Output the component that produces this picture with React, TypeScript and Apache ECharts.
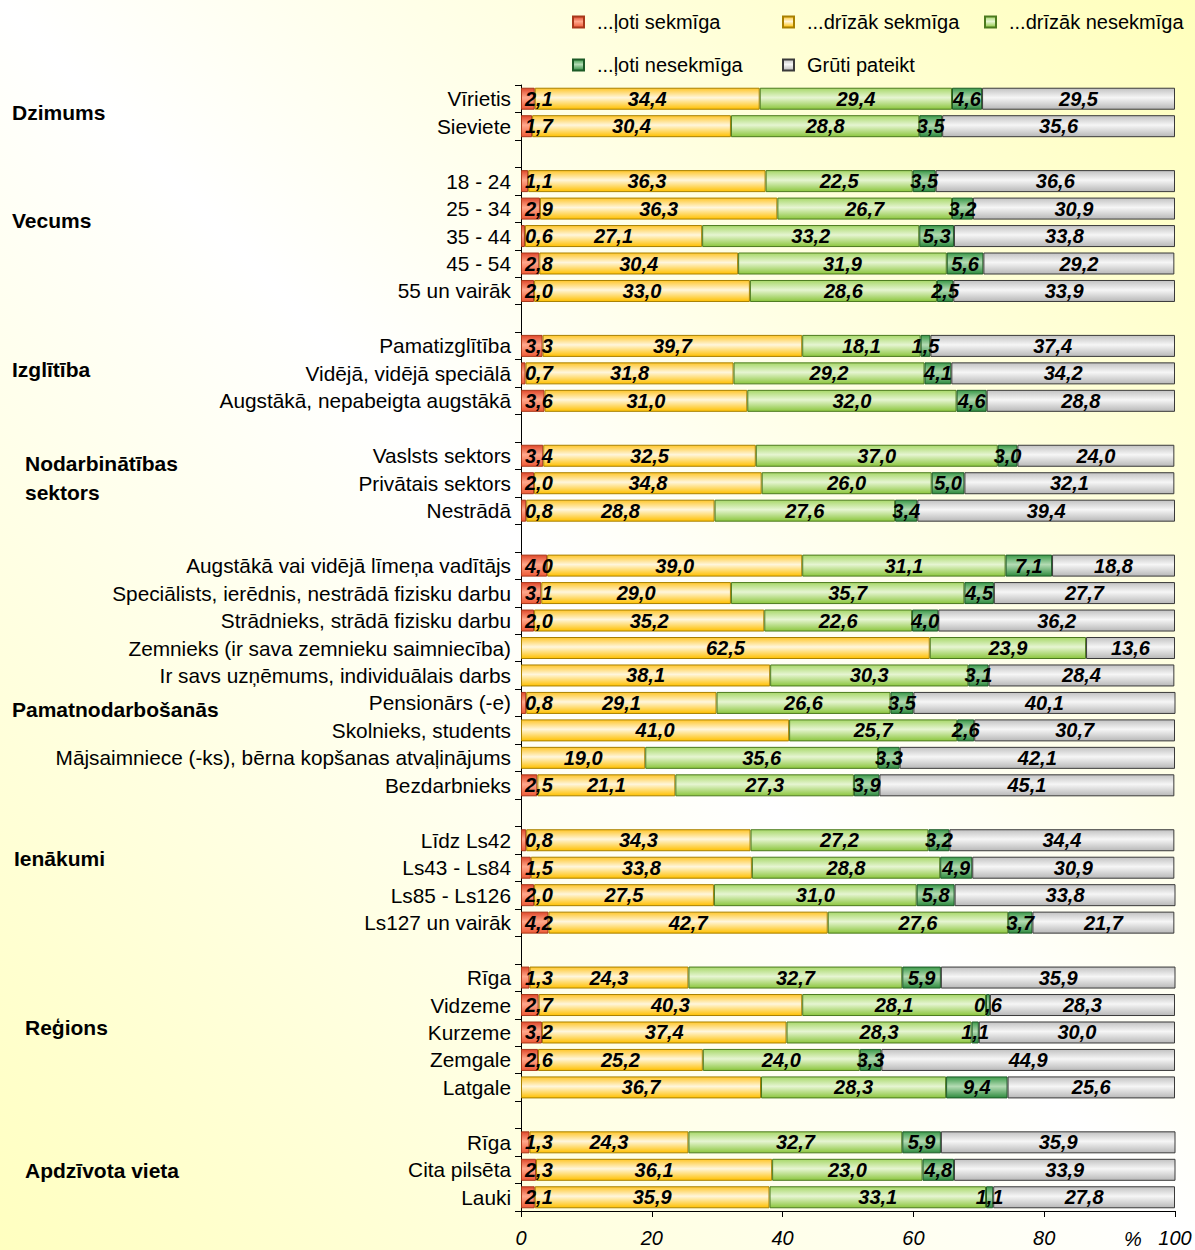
import React, { useEffect, useRef } from "react";
import * as echarts from "echarts";

// ---------- DATA ----------
const categories = [
  "Vīrietis",
  "Sieviete",
  "",
  "18 - 24",
  "25 - 34",
  "35 - 44",
  "45 - 54",
  "55 un vairāk",
  "",
  "Pamatizglītība",
  "Vidējā, vidējā speciālā",
  "Augstākā, nepabeigta augstākā",
  "",
  "Vaslsts sektors",
  "Privātais sektors",
  "Nestrādā",
  "",
  "Augstākā vai vidējā līmeņa vadītājs",
  "Speciālists, ierēdnis, nestrādā fizisku darbu",
  "Strādnieks, strādā fizisku darbu",
  "Zemnieks (ir sava zemnieku saimniecība)",
  "Ir savs uzņēmums, individuālais darbs",
  "Pensionārs (-e)",
  "Skolnieks, students",
  "Mājsaimniece (-ks), bērna kopšanas atvaļinājums",
  "Bezdarbnieks",
  "",
  "Līdz Ls42",
  "Ls43 - Ls84",
  "Ls85 - Ls126",
  "Ls127 un vairāk",
  "",
  "Rīga",
  "Vidzeme",
  "Kurzeme",
  "Zemgale",
  "Latgale",
  "",
  "Rīga",
  "Cita pilsēta",
  "Lauki",
];

const seriesNames = [
  "...ļoti sekmīga",
  "...drīzāk sekmīga",
  "...drīzāk nesekmīga",
  "...ļoti nesekmīga",
  "Grūti pateikt",
];

const lotiSekmiga = [
  2.1, 1.7, null,
  1.1, 2.9, 0.6, 2.8, 2.0, null,
  3.3, 0.7, 3.6, null,
  3.4, 2.0, 0.8, null,
  4.0, 3.1, 2.0, null, null, 0.8, null, null, 2.5, null,
  0.8, 1.5, 2.0, 4.2, null,
  1.3, 2.7, 3.2, 2.6, null, null,
  1.3, 2.3, 2.1,
];

const drizakSekmiga = [
  34.4, 30.4, null,
  36.3, 36.3, 27.1, 30.4, 33.0, null,
  39.7, 31.8, 31.0, null,
  32.5, 34.8, 28.8, null,
  39.0, 29.0, 35.2, 62.5, 38.1, 29.1, 41.0, 19.0, 21.1, null,
  34.3, 33.8, 27.5, 42.7, null,
  24.3, 40.3, 37.4, 25.2, 36.7, null,
  24.3, 36.1, 35.9,
];

const drizakNesekmiga = [
  29.4, 28.8, null,
  22.5, 26.7, 33.2, 31.9, 28.6, null,
  18.1, 29.2, 32.0, null,
  37.0, 26.0, 27.6, null,
  31.1, 35.7, 22.6, 23.9, 30.3, 26.6, 25.7, 35.6, 27.3, null,
  27.2, 28.8, 31.0, 27.6, null,
  32.7, 28.1, 28.3, 24.0, 28.3, null,
  32.7, 23.0, 33.1,
];

const lotiNesekmiga = [
  4.6, 3.5, null,
  3.5, 3.2, 5.3, 5.6, 2.5, null,
  1.5, 4.1, 4.6, null,
  3.0, 5.0, 3.4, null,
  7.1, 4.5, 4.0, null, 3.1, 3.5, 2.6, 3.3, 3.9, null,
  3.2, 4.9, 5.8, 3.7, null,
  5.9, 0.6, 1.1, 3.3, 9.4, null,
  5.9, 4.8, 1.1,
];

const gruitiPateikt = [
  29.5, 35.6, null,
  36.6, 30.9, 33.8, 29.2, 33.9, null,
  37.4, 34.2, 28.8, null,
  24.0, 32.1, 39.4, null,
  18.8, 27.7, 36.2, 13.6, 28.4, 40.1, 30.7, 42.1, 45.1, null,
  34.4, 30.9, 33.8, 21.7, null,
  35.9, 28.3, 30.0, 44.9, 25.6, null,
  35.9, 33.9, 27.8,
];

const seriesValues = [lotiSekmiga, drizakSekmiga, drizakNesekmiga, lotiNesekmiga, gruitiPateikt];

const xTickMin = 0;
const xTickMax = 100;
const xTickStep = 20;
const xUnit = "%";

const groupNames = [
  "Dzimums",
  "Vecums",
  "Izglītība",
  "Nodarbinātības",
  "sektors",
  "Pamatnodarbošanās",
  "Ienākumi",
  "Reģions",
  "Apdzīvota vieta",
];

// ---------- STYLE / LAYOUT ----------
const FONT = "Liberation Sans, Arial, Helvetica, sans-serif";

const gradientStops = [
  ["#E0482A", "#FFA88C", "#EE5A36"],
  ["#FFC62A", "#FFF6DC", "#FFC000"],
  ["#A8D86A", "#E6F5D2", "#8CC63E"],
  ["#3C9A4A", "#B4DCB4", "#2E8B3E"],
  ["#C2C2C2", "#F6F6F6", "#B8B8B8"],
];
const borderColors = ["#A8381A", "#A88000", "#4C7A1E", "#1C5A26", "#3A3A3A"];

const legendPos = [
  [572, 12],
  [782, 12],
  [984, 12],
  [572, 55],
  [782, 55],
];

const groupPos = [
  [12, 112],
  [12, 220],
  [12, 369],
  [25, 463],
  [25, 492],
  [12, 709],
  [14, 858],
  [25, 1027],
  [25, 1170],
];

const fmt = (v: number) => v.toFixed(1).replace(".", ",");

export default function App() {
  const ref = useRef<HTMLDivElement>(null);

  useEffect(() => {
    document.body.style.margin = "0";
    document.body.style.overflow = "hidden";
    if (!ref.current) return;
    const chart = echarts.init(ref.current, undefined, { renderer: "svg" });

    const series = seriesNames.map((name, i) => ({
      name,
      type: "bar",
      stack: "total",
      barWidth: 22,
      data: seriesValues[i],
      itemStyle: {
        color: {
          type: "linear",
          x: 0,
          y: 0,
          x2: 0,
          y2: 1,
          colorStops: [
            { offset: 0, color: gradientStops[i][0] },
            { offset: 0.45, color: gradientStops[i][1] },
            { offset: 1, color: gradientStops[i][2] },
          ],
        },
        borderColor: borderColors[i],
        borderWidth: 1,
      },
      label: {
        show: true,
        position: i === 0 ? "insideLeft" : "inside",
        distance: 4,
        formatter: (p: any) => (p.value == null ? "" : fmt(Number(p.value))),
        color: "#000",
        fontFamily: FONT,
        fontSize: 20,
        fontWeight: "bold",
        fontStyle: "italic",
      },
      emphasis: { disabled: true },
    }));

    const legends = seriesNames.map((n, i) => ({
      data: [n],
      left: legendPos[i][0],
      top: legendPos[i][1],
      padding: 0,
      itemWidth: 11,
      itemHeight: 11,
      icon: "rect",
      selectedMode: false,
      textStyle: { fontSize: 20, color: "#000", fontFamily: FONT, padding: [0, 0, 0, 8] },
    }));

    const graphics: any[] = groupNames.map((t, i) => ({
      type: "text",
      x: groupPos[i][0],
      y: groupPos[i][1],
      style: {
        text: t,
        fill: "#000",
        fontFamily: FONT,
        fontSize: 21,
        fontWeight: "bold",
        align: "left",
        verticalAlign: "middle",
      },
    }));
    graphics.push({
      type: "text",
      x: 1133,
      y: 1239,
      style: {
        text: xUnit,
        fill: "#000",
        fontFamily: FONT,
        fontSize: 20,
        fontStyle: "italic",
        align: "center",
        verticalAlign: "middle",
      },
    });

    chart.setOption({
      animation: false,
      backgroundColor: "transparent",
      textStyle: { fontFamily: FONT },
      legend: legends,
      grid: { left: 521, right: 20, top: 85, bottom: 39, containLabel: false },
      xAxis: {
        type: "value",
        min: xTickMin,
        max: xTickMax,
        interval: xTickStep,
        axisLine: { show: true, lineStyle: { color: "#000", width: 1 } },
        axisTick: { show: true, length: 6, lineStyle: { color: "#000" } },
        splitLine: { show: false },
        axisLabel: {
          fontSize: 20,
          fontStyle: "italic",
          color: "#000",
          margin: 17,
          fontFamily: FONT,
          formatter: "{it|{value}}",
          rich: {
            it: { fontSize: 20, fontStyle: "italic", color: "#000", fontFamily: FONT },
          },
        },
      },
      yAxis: {
        type: "category",
        data: categories,
        inverse: true,
        axisLine: { show: true, lineStyle: { color: "#000", width: 1 } },
        axisTick: { show: true, length: 6, interval: 0, lineStyle: { color: "#000" } },
        axisLabel: { fontSize: 20.8, color: "#000", margin: 10, interval: 0, fontFamily: FONT },
        splitLine: { show: false },
      },
      graphic: graphics,
      series,
    } as any);

    return () => chart.dispose();
  }, []);

  return (
    <div
      ref={ref}
      style={{
        width: 1195,
        height: 1250,
        background: "linear-gradient(to top right, #FFFFC0 0%, #FFFFFF 50%, #FFFFBC 100%)",
      }}
    />
  );
}
